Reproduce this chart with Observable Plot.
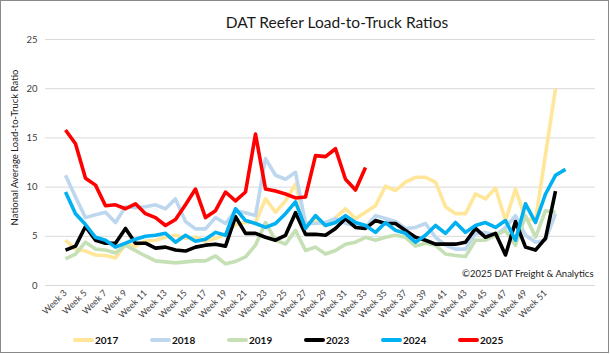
<!DOCTYPE html>
<html><head><meta charset="utf-8">
<script src="https://cdn.jsdelivr.net/npm/d3@7"></script>
<script src="https://cdn.jsdelivr.net/npm/@observablehq/plot@0.6"></script>
<style>
body{margin:0;background:#fff;}
#chart{position:relative;width:610px;height:354px;font-family:Lato,"Open Sans",sans-serif;overflow:hidden;background:#fff;}
#frame{position:absolute;left:0;top:0;width:609px;height:353px;box-sizing:border-box;border:1px solid #8a8a8a;pointer-events:none;}
#title{position:absolute;left:12px;top:13px;width:650px;text-align:center;font-size:15.5px;color:#1a1a1a;}
#plot{position:absolute;left:0;top:30px;}
#legend{position:absolute;left:0;top:334px;width:610px;height:16px;}
.item{position:absolute;top:0;display:flex;align-items:center;font-size:10px;font-weight:700;color:#111;}
.sw{display:inline-block;width:21px;height:4px;margin-right:1px;border-radius:2px;}
</style></head>
<body>
<div id="chart">
  <div id="title">DAT Reefer Load-to-Truck Ratios</div>
  <div id="plot"></div>
  <div id="legend"></div>
  <div id="frame"></div>
</div>
<script>
const weeks = [3,4,5,6,7,8,9,10,11,12,13,14,15,16,17,18,19,20,21,22,23,24,25,26,27,28,29,30,31,32,33,34,35,36,37,38,39,40,41,42,43,44,45,46,47,48,49,50,51,52,53,54];
const tickWeeks = [3,5,7,9,11,13,15,17,19,21,23,25,27,29,31,33,35,37,39,41,43,45,47,49,51];
const yTicks = [0,5,10,15,20,25];
const years = ["2017","2018","2019","2023","2024","2025"];
const colors = ["#FFE699","#BDD7EE","#C5E0B4","#000000","#00B0F0","#FF0000"];

const v2017 = [4.6,3.7,3.5,3.1,3.05,2.8,4.2,4.0,4.5,4.6, 4.9,5.1,4.8,4.9,4.5,4.8,5.2,6.2,6.4,6.4, 8.8,7.45,8.6,10.3,6.3,6.6,6.1,6.9,7.8,6.8, 7.45,8.1,10.1,9.65,10.5,11.0,11.0,10.5,8.0,7.3, 7.3,9.3,8.8,9.9,6.6,9.8,6.8,6.6,13.3,20.0];
const v2018 = [11.2,9.0,6.9,7.2,7.45,6.4,8.0,7.9,8.0,8.2, 7.8,8.8,6.5,5.75,5.75,6.9,6.3,7.6,7.4,7.1, 12.9,11.2,10.8,11.5,6.3,6.3,6.4,6.8,6.3,6.1, 5.9,7.1,6.8,6.5,5.8,5.9,6.3,4.9,4.1,3.7, 3.7,5.25,5.4,5.1,5.9,7.1,5.1,4.4,4.6,7.3];
const v2019 = [2.7,3.2,4.4,3.7,3.6,3.3,4.1,3.55,3.0,2.5, 2.4,2.3,2.4,2.5,2.5,3.0,2.2,2.45,2.9,4.1, 6.4,4.6,4.2,5.6,3.55,3.9,3.2,3.55,4.2,4.4, 4.9,4.6,4.9,5.1,4.9,4.0,4.3,4.1,3.2,3.05, 2.95,4.6,4.6,5.1,5.6,4.1,7.1,4.9,7.6,7.45];
const v2023 = [3.6,4.0,6.0,4.6,4.3,4.3,5.8,4.3,4.3,3.8, 3.9,3.6,3.5,3.9,4.1,4.2,4.0,7.0,5.3,5.3, 4.9,4.6,5.1,7.4,5.2,5.2,5.1,5.8,6.8,5.9, 5.8,6.6,6.3,6.3,5.6,4.9,4.6,4.2,4.2,4.2, 4.4,5.8,4.9,5.3,3.1,6.5,3.9,3.6,4.8,9.6];
const v2024 = [9.5,7.3,6.2,4.9,4.6,3.9,4.3,4.7,5.0,5.1, 5.3,4.4,5.1,4.5,4.7,5.4,5.1,7.8,6.6,6.3, 5.9,6.3,7.3,8.5,5.8,7.1,6.1,6.4,7.1,6.4, 6.1,5.4,6.4,5.6,5.3,4.4,5.1,6.1,5.3,6.4, 5.4,6.1,6.4,5.9,6.6,4.6,8.3,6.4,9.3,11.2, 11.8];
const v2025 = [15.8,14.4,10.9,10.2,8.1,8.2,7.8,8.3,7.3,6.9, 6.1,6.7,8.2,9.8,6.9,7.6,9.5,8.6,9.5,15.4, 9.8,9.6,9.3,8.9,9.0,13.2,13.1,13.9,10.8,9.7, 12.0];

const series = [v2017, v2018, v2019, v2023, v2024, v2025];
const rows = [];
series.forEach((vals, s) => vals.forEach((v, i) => rows.push({year: years[s], week: weeks[i], value: v})));

const font = "Lato, 'Open Sans', sans-serif";
const chart = Plot.plot({
  width: 610, height: 295,
  marginLeft: 45, marginRight: 15, marginTop: 9, marginBottom: 40,
  style: {fontFamily: font, background: "transparent", overflow: "visible"},
  x: {type: "point", domain: weeks, padding: 0.5, axis: null},
  y: {domain: [0, 25], axis: null},
  color: {domain: years, range: colors},
  marks: [
    Plot.gridY(yTicks, {stroke: "#d9d9d9", strokeOpacity: 1, strokeWidth: 1}),
    Plot.axisY(yTicks, {tickSize: 0, tickPadding: 8, fontSize: 9.5, fill: "#404040", label: null}),
    Plot.axisX(tickWeeks, {tickSize: 0, tickPadding: 6, tickRotate: -45, fontSize: 9, fill: "#404040", label: null, tickFormat: d => "Week " + d}),
    Plot.line(rows, {x: "week", y: "value", z: "year", stroke: "year", strokeWidth: 3.6, strokeLinejoin: "round", strokeLinecap: "butt"}),
    Plot.text(["©2025 DAT Freight & Analytics"], {frameAnchor: "bottom-right", dx: -2, dy: -9, fontSize: 9.5, fill: "#1a1a1a", textAnchor: "end"}),
    Plot.text(["National Average Load-to-Truck Ratio"], {frameAnchor: "left", textAnchor: "middle", rotate: -90, dx: -31, dy: -15, fontSize: 9.5, fill: "#1a1a1a"})
  ]
});
document.getElementById("plot").appendChild(chart);

const legend = document.getElementById("legend");
years.forEach((y, i) => {
  const it = document.createElement("div");
  it.className = "item";
  it.style.left = (73 + i * 77) + "px";
  const sw = document.createElement("span");
  sw.className = "sw";
  sw.style.background = colors[i];
  it.appendChild(sw);
  it.appendChild(document.createTextNode(y));
  legend.appendChild(it);
});
</script>
</body></html>
